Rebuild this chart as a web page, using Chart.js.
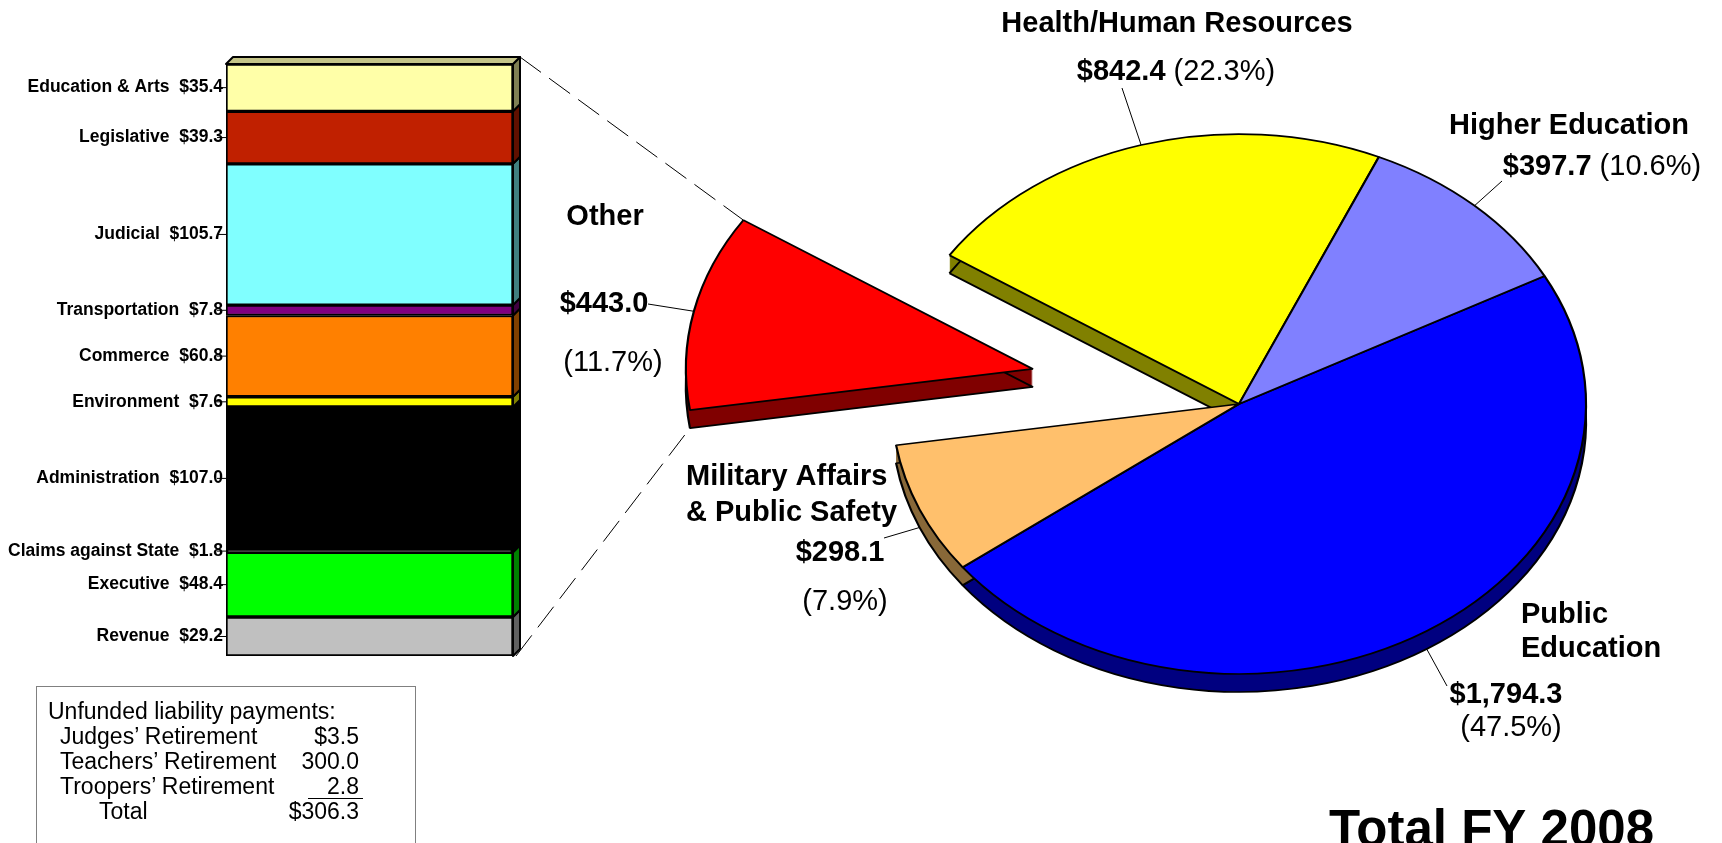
<!DOCTYPE html>
<html>
<head>
<meta charset="utf-8">
<script src="https://cdn.jsdelivr.net/npm/chart.js@4.4.1/dist/chart.umd.min.js"></script>
<style>
  html, body { margin: 0; padding: 0; background: #fff; width: 1722px; height: 843px; overflow: hidden; }
  canvas { position: absolute; left: 0; top: 0; }
  #box { position: absolute; left: 36px; top: 686px; width: 380px; height: 180px; border: 1px solid #808080; box-sizing: border-box; }
  .txt { position: absolute; white-space: pre; font: 23px "Liberation Sans", Arial, sans-serif; color: #000; line-height: 26px; }
  .rule { position: absolute; height: 0; border-top: 1px solid #000; }
</style>
</head>
<body>
<canvas id="bar" width="1722" height="843"></canvas>
<canvas id="pie" width="1722" height="843"></canvas>
<div id="box"></div>
<script>
// ---- data -----------------------------------------------------------------
// Breakdown of the "Other" slice, listed top to bottom as stacked in the bar.
const otherCats = ["Education & Arts", "Legislative", "Judicial", "Transportation", "Commerce",
  "Environment", "Administration", "Claims against State", "Executive", "Revenue"];
const otherValues = [35.4, 39.3, 105.7, 7.8, 60.8, 7.6, 107.0, 1.8, 48.4, 29.2];

// Main pie, clockwise from Public Education.
const pieCats = ["Public Education", "Military Affairs & Public Safety", "Other",
  "Health/Human Resources", "Higher Education"];
const pieValues = [1794.3, 298.1, 443.0, 842.4, 397.7];
const piePercents = [47.5, 7.9, 11.7, 22.3, 10.6];
const pieNameLines = [["Public", "Education"], ["Military Affairs", "& Public Safety"], ["Other"],
  ["Health/Human Resources"], ["Higher Education"]];

const liabilityNames = ["Judges\u2019 Retirement", "Teachers\u2019 Retirement", "Troopers\u2019 Retirement"];
const liabilityValues = [3.5, 300.0, 2.8];

const totalTitle = "Total FY 2008";

// ---- styles -----------------------------------------------------------------
const otherColors = ["#FFFFA8", "#C02000", "#80FFFF", "#800080", "#FF8000",
  "#FFFF00", "#000000", "#000000", "#00FF00", "#C0C0C0"];
const otherSides = ["#808054", "#601000", "#408080", "#400040", "#804000",
  "#808000", "#000000", "#000000", "#008000", "#606060"];
const barTopFace = "#C4C488";
const BAR_D = 7;

const pieColors = ["#0000FF", "#FFC06C", "#FF0000", "#FFFF00", "#8080FF"];
const pieSides = ["#000080", "#886838", "#800000", "#808000", "#404080"];
const PIE_EXPLODE = [0, 0, 211, 0, 0];
const PIE_TILT = 0.778;
const PIE_DEPTH = 18;
const FONT = '"Liberation Sans", Arial, sans-serif';

// label placement (page pixels)
const pieLabelLayout = [
  { name: [1521, 615, "left"], lineGap: 34, value: [1506, 695], pct: [1511, 728], lead: [1447, 686] },
  { name: [686, 477, "left"], lineGap: 36, value: [840, 553], pct: [845, 602], lead: [884, 538] },
  { name: [605, 217, "center"], value: [604, 304], pct: [613, 363], lead: [648, 304] },
  { name: [1177, 24, "center"], inline: [1176, 72], lead: [1122, 88] },
  { name: [1569, 126, "center"], inline: [1602, 167], lead: [1502, 181] },
];

const money = (v) => "$" + v.toLocaleString("en-US", { minimumFractionDigits: 1, maximumFractionDigits: 1 });

// ---- stacked "Other" bar ----------------------------------------------------
const bottomUp = otherCats.map((c, i) => i).reverse();

const bar3d = {
  id: "bar3d",
  afterDatasetsDraw(chart) {
    const ctx = chart.ctx;
    const n = chart.data.datasets.length;
    ctx.save();
    ctx.strokeStyle = "#000";
    ctx.lineJoin = "round";
    chart.data.datasets.forEach((ds, di) => {
      const bar = chart.getDatasetMeta(di).data[0];
      const left = bar.x - bar.width / 2, right = bar.x + bar.width / 2;
      const top = Math.min(bar.y, bar.base), bottom = Math.max(bar.y, bar.base);
      ctx.lineWidth = 2;
      // right side face
      ctx.beginPath();
      ctx.moveTo(right, bottom);
      ctx.lineTo(right, top);
      ctx.lineTo(right + BAR_D, top - BAR_D);
      ctx.lineTo(right + BAR_D, bottom - BAR_D);
      ctx.closePath();
      ctx.fillStyle = ds.sideColor;
      ctx.fill();
      ctx.stroke();
      if (di === n - 1) {
        ctx.beginPath();
        ctx.moveTo(left, top);
        ctx.lineTo(left + BAR_D, top - BAR_D);
        ctx.lineTo(right + BAR_D, top - BAR_D);
        ctx.lineTo(right, top);
        ctx.closePath();
        ctx.fillStyle = barTopFace;
        ctx.fill();
        ctx.stroke();
      }
      // category label with a short tick into the bar
      const y = (top + bottom) / 2;
      ctx.fillStyle = "#000";
      ctx.font = "bold 17.5px " + FONT;
      ctx.textAlign = "right";
      ctx.textBaseline = "middle";
      ctx.fillText(ds.label + "  " + money(ds.data[0]), left - 3, y);
      ctx.lineWidth = 1;
      ctx.beginPath();
      ctx.moveTo(left - 9, y);
      ctx.lineTo(left, y);
      ctx.stroke();
    });
    ctx.restore();
  },
};

const barChart = new Chart(document.getElementById("bar"), {
  type: "bar",
  data: {
    labels: ["Other"],
    datasets: bottomUp.map((i) => ({
      label: otherCats[i],
      data: [otherValues[i]],
      backgroundColor: otherColors[i],
      sideColor: otherSides[i],
      borderColor: "#000",
      borderWidth: 2,
      borderSkipped: false,
      barPercentage: 1,
      categoryPercentage: 1,
    })),
  },
  options: {
    responsive: false,
    animation: false,
    layout: { padding: { left: 226, right: 1722 - 513, top: 64, bottom: 843 - 656 } },
    scales: {
      x: { stacked: true, display: false },
      y: { stacked: true, display: false, min: 0, max: otherValues.reduce((a, b) => a + b, 0) },
    },
    plugins: { legend: { display: false }, tooltip: { enabled: false } },
  },
  plugins: [bar3d],
});

// ---- tilted, exploded pie -------------------------------------------------
function rimPoint(arc, i, angle, withDepth) {
  const mid = (arc.startAngle + arc.endAngle) / 2;
  const e = PIE_EXPLODE[i];
  const x = arc.x + Math.cos(angle) * arc.outerRadius + Math.cos(mid) * e;
  const yu = Math.sin(angle) * arc.outerRadius + Math.sin(mid) * e;
  let y = arc.y + yu * PIE_TILT;
  if (withDepth && Math.sin(angle) > 0) y += PIE_DEPTH;
  return { x, y };
}

function drawRuns(ctx, runs, cx, y) {
  let total = 0;
  runs.forEach((r) => { ctx.font = r.font; r.w = ctx.measureText(r.text).width; total += r.w; });
  let x = cx - total / 2;
  ctx.textAlign = "left";
  runs.forEach((r) => { ctx.font = r.font; ctx.fillText(r.text, x, y); x += r.w; });
}

const pie3d = {
  id: "pie3d",
  beforeDatasetsDraw(chart) {
    const ctx = chart.ctx;
    const arcs = chart.getDatasetMeta(0).data;
    const drawWith = (arc, i, dy, over) => {
      const base = arc.options;
      const mid = (arc.startAngle + arc.endAngle) / 2;
      arc.options = Object.assign({}, base, over);
      ctx.save();
      ctx.translate(0, dy);
      ctx.translate(arc.x, arc.y);
      ctx.scale(1, PIE_TILT);
      ctx.translate(-arc.x, -arc.y);
      ctx.translate(Math.cos(mid) * PIE_EXPLODE[i], Math.sin(mid) * PIE_EXPLODE[i]);
      arc.draw(ctx);
      ctx.restore();
      arc.options = base;
    };
    for (let d = 1; d < PIE_DEPTH; d++) {
      arcs.forEach((a, i) => drawWith(a, i, d, { backgroundColor: pieSides[i], borderWidth: 0 }));
    }
    arcs.forEach((a, i) => drawWith(a, i, PIE_DEPTH, { backgroundColor: pieSides[i] }));
    arcs.forEach((a, i) => drawWith(a, i, 0, {}));
    return false;
  },
  afterDraw(chart) {
    const ctx = chart.ctx;
    const arcs = chart.getDatasetMeta(0).data;
    const bold = "bold 29px " + FONT, reg = "29px " + FONT;
    ctx.save();
    ctx.fillStyle = "#000";
    ctx.strokeStyle = "#000";
    ctx.textBaseline = "middle";

    arcs.forEach((arc, i) => {
      const L = pieLabelLayout[i];
      const mid = (arc.startAngle + arc.endAngle) / 2;
      const p = rimPoint(arc, i, mid, true);
      ctx.lineWidth = 1;
      ctx.beginPath();
      ctx.moveTo(L.lead[0], L.lead[1]);
      ctx.lineTo(p.x, p.y);
      ctx.stroke();

      ctx.font = bold;
      ctx.textAlign = L.name[2];
      pieNameLines[i].forEach((t, k) => ctx.fillText(t, L.name[0], L.name[1] + k * (L.lineGap || 0)));
      if (L.inline) {
        drawRuns(ctx, [{ text: money(pieValues[i]), font: bold }, { text: " (" + piePercents[i].toFixed(1) + "%)", font: reg }],
          L.inline[0], L.inline[1]);
      } else {
        ctx.textAlign = "center";
        ctx.font = bold;
        ctx.fillText(money(pieValues[i]), L.value[0], L.value[1]);
        ctx.font = reg;
        ctx.fillText("(" + piePercents[i].toFixed(1) + "%)", L.pct[0], L.pct[1]);
      }
    });

    // dashed guides from the "Other" bar to the exploded slice
    const oi = pieCats.indexOf("Other");
    const oArc = arcs[oi];
    const nb = barChart.data.datasets.length;
    const topBar = barChart.getDatasetMeta(nb - 1).data[0];
    const botBar = barChart.getDatasetMeta(0).data[0];
    const tEnd = rimPoint(oArc, oi, oArc.endAngle, false);
    const bEnd = rimPoint(oArc, oi, oArc.startAngle, true);
    ctx.lineWidth = 1;
    ctx.setLineDash([26, 10]);
    ctx.beginPath();
    ctx.moveTo(topBar.x + topBar.width / 2 + BAR_D, topBar.y - BAR_D);
    ctx.lineTo(tEnd.x, tEnd.y);
    ctx.moveTo(botBar.x + botBar.width / 2 + 3, botBar.base);
    ctx.lineTo(bEnd.x, bEnd.y);
    ctx.stroke();
    ctx.setLineDash([]);

    ctx.font = "bold 51px " + FONT;
    ctx.textAlign = "left";
    ctx.textBaseline = "alphabetic";
    ctx.fillText(totalTitle, 1329, 846);
    ctx.restore();
  },
};

new Chart(document.getElementById("pie"), {
  type: "pie",
  data: {
    labels: pieCats,
    datasets: [{ data: pieValues, backgroundColor: pieColors, borderColor: "#000", borderWidth: 2.2, clip: false }],
  },
  options: {
    responsive: false,
    animation: false,
    rotation: 61.7,
    radius: 347,
    layout: { padding: { left: 756, right: 0, top: 0, bottom: 35 } },
    plugins: { legend: { display: false }, tooltip: { enabled: false } },
  },
  plugins: [pie3d],
});

// ---- unfunded liability box ----------------------------------------------
(function () {
  const add = (text, x, y, right) => {
    const el = document.createElement("div");
    el.className = "txt";
    el.textContent = text;
    el.style.top = (y - 13) + "px";
    if (right) el.style.right = (1722 - x) + "px"; else el.style.left = x + "px";
    document.body.appendChild(el);
  };
  add("Unfunded liability payments:", 48, 711);
  const rowY = [736, 761, 786];
  liabilityNames.forEach((n, i) => {
    add(n, 60, rowY[i]);
    add((i === 0 ? "$" : "") + liabilityValues[i].toFixed(1), 359, rowY[i], true);
  });
  const rule = document.createElement("div");
  rule.className = "rule";
  rule.style.left = "308px"; rule.style.top = "798px"; rule.style.width = "55px";
  document.body.appendChild(rule);
  add("Total", 99, 811);
  add(money(liabilityValues.reduce((a, b) => a + b, 0)), 359, 811, true);
})();
</script>
</body>
</html>
